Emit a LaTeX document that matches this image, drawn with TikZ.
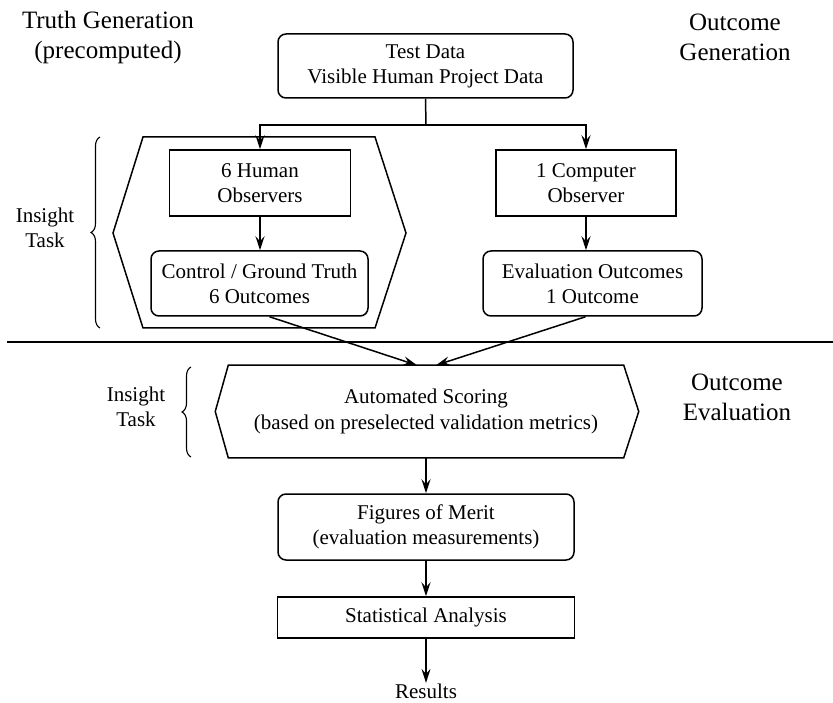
\documentclass[tikz,border=0pt]{standalone}
\usepackage{fontspec}
\setmainfont{Liberation Serif}
\newfontfamily\tms{Liberation Serif}
\usetikzlibrary{arrows.meta,calc,decorations.pathreplacing}
\begin{document}
\begin{tikzpicture}[x=1pt,y=-1pt,
  line width=1.5pt,
  arr/.style={-{Stealth[length=14pt,width=9pt,inset=5pt]}},
  box/.style={draw, inner sep=0pt, align=center, font=\tms\fontsize{21}{25}\selectfont},
  rbox/.style={box, rounded corners=8pt},
  title/.style={align=center, inner sep=0pt, font=\tms\fontsize{25}{30}\selectfont},
  side/.style={align=center, inner sep=0pt, font=\tms\fontsize{21}{25}\selectfont},
  bracestyle/.style={decorate, decoration={brace, amplitude=9pt}, line width=1.1pt}]
\useasboundingbox (0,0) rectangle (833,703);

% titles
\node[title] (tg) at (108,37) {Truth Generation\\(precomputed)};
\node[title] (og) at (735,37) {Outcome\\Generation};
\node[title] (oe) at (737,397) {Outcome\\Evaluation};

% top box
\node[rbox, minimum width=295pt, minimum height=64pt] (test) at (425.5,66) {Test Data\\Visible Human Project Data};

% left hexagon container
\draw (143,137) -- (375,137) -- (406,233) -- (375,328) -- (143,328) -- (113,233) -- cycle;

\node[box, minimum width=181pt, minimum height=66pt] (human) at (260,183) {6 Human\\Observers};
\node[rbox, minimum width=217pt, minimum height=65pt] (control) at (259.5,283.5) {Control / Ground Truth\\6 Outcomes};
\node[box, minimum width=180pt, minimum height=66pt] (comp) at (586,183) {1 Computer\\Observer};
\node[rbox, minimum width=219pt, minimum height=65pt] (eval) at (592.5,283.5) {Evaluation Outcomes\\1 Outcome};

% split connectors
\coordinate (split) at (426,125);
\draw (test.south) -- (split);
\draw[arr] (split) -| (human.north);
\draw[arr] (split) -| (comp.north);
\draw[arr] (human.south) -- (human.south |- control.north);
\draw[arr] (comp.south) -- (comp.south |- eval.north);

% insight task (top)
\draw[bracestyle] (100,328) -- (100,137);
\node[side] (it1) at (45,228) {Insight\\Task};

% separator
\coordinate (sepL) at (7,342);
\coordinate (sepR) at (833,342);
\draw (sepL) -- (sepR);

% scoring
\node[inner sep=0pt, align=center, minimum width=394pt, minimum height=91pt, font=\tms\fontsize{21}{26}\selectfont] (score) at (426,411.5) {Automated Scoring\\(based on preselected validation metrics)};
\draw (score.north west) -- (score.north east) -- ($(score.east)+(15,0)$) -- (score.south east) -- (score.south west) -- ($(score.west)+(-13,0)$) -- cycle;

\draw[arr] ($(control.south)+(10,0)$) -- ($(score.north)+(-9,0)$);
\draw[arr] ($(eval.south)+(-7,0)$) -- ($(score.north)+(10,0)$);

\draw[bracestyle] (191,457) -- (191,367);
\node[side] (it2) at (136,407) {Insight\\Task};

\node[rbox, minimum width=296pt, minimum height=66pt] (merit) at (426,527) {Figures of Merit\\(evaluation measurements)};
\node[box, minimum width=297pt, minimum height=41pt] (stats) at (426,617.5) {Statistical Analysis};
\node[side] (res) at (426,691) {Results};

\draw[arr] (score.south) -- (merit.north);
\draw[arr] (merit.south) -- (stats.north);
\draw[arr] (stats.south) -- (stats.south |- res.north);
\end{tikzpicture}
\end{document}
